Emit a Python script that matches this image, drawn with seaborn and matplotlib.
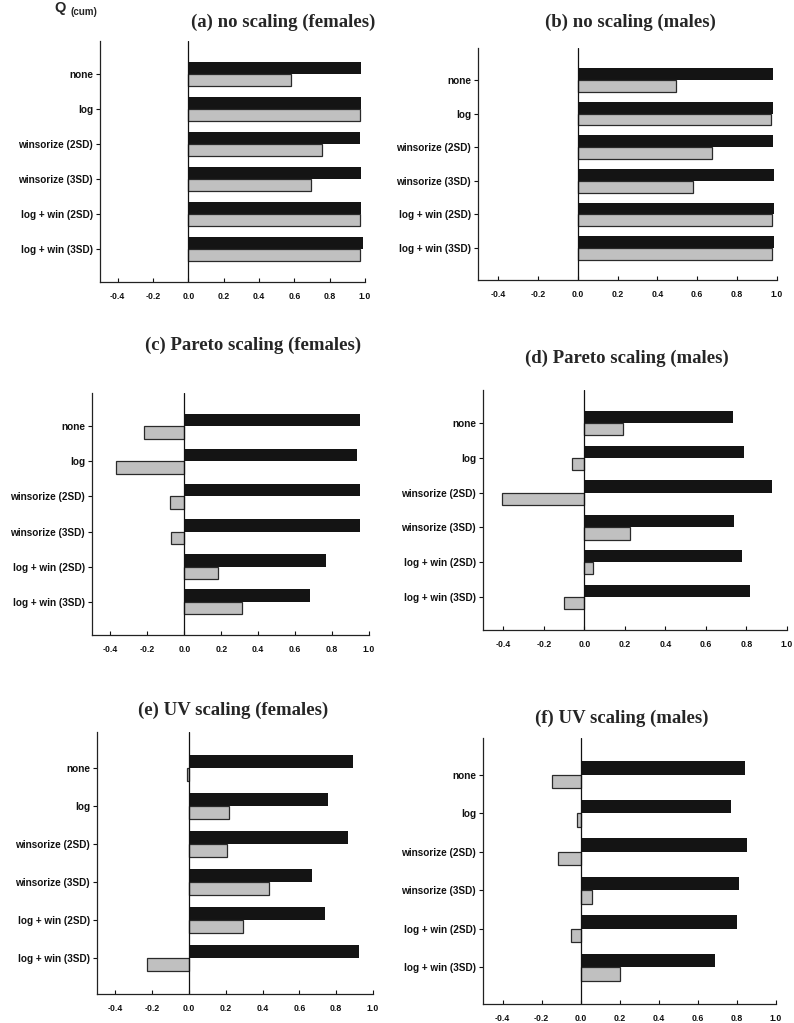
import numpy as np
import pandas as pd
import matplotlib
matplotlib.use("Agg")
import matplotlib.pyplot as plt
import seaborn as sns

sns.set_style("white")
plt.rcParams["axes.unicode_minus"] = False
plt.rcParams["font.family"] = ["Liberation Sans", "DejaVu Sans"]

# Pre-treatment methods (y categories)
methods = ["none", "log", "winsorize (2SD)", "winsorize (3SD)",
           "log + win (2SD)", "log + win (3SD)"]
stats = ["R2(cum)", "Q2(cum)"]

# Cumulative R2 / Q2 per panel
r2_none_f = [0.98, 0.98, 0.97, 0.98, 0.98, 0.99]
q2_none_f = [0.58, 0.97, 0.755, 0.695, 0.97, 0.97]
r2_none_m = [0.98, 0.98, 0.98, 0.985, 0.985, 0.985]
q2_none_m = [0.495, 0.97, 0.675, 0.58, 0.975, 0.975]
r2_par_f = [0.95, 0.935, 0.95, 0.95, 0.765, 0.68]
q2_par_f = [-0.22, -0.37, -0.08, -0.07, 0.18, 0.31]
r2_par_m = [0.735, 0.79, 0.925, 0.74, 0.78, 0.815]
q2_par_m = [0.19, -0.06, -0.405, 0.225, 0.045, -0.10]
r2_uv_f = [0.89, 0.757, 0.865, 0.67, 0.739, 0.922]
q2_uv_f = [-0.012, 0.22, 0.207, 0.436, 0.294, -0.229]
r2_uv_m = [0.84, 0.77, 0.85, 0.81, 0.80, 0.69]
q2_uv_m = [-0.145, -0.02, -0.115, 0.06, -0.05, 0.20]

titles = ["(a) no scaling (females)", "(b) no scaling (males)",
          "(c) Pareto scaling (females)", "(d) Pareto scaling (males)",
          "(e) UV scaling (females)", "(f) UV scaling (males)"]
series = [(r2_none_f, q2_none_f), (r2_none_m, q2_none_m),
          (r2_par_f, q2_par_f), (r2_par_m, q2_par_m),
          (r2_uv_f, q2_uv_f), (r2_uv_m, q2_uv_m)]

W, H = 794, 1023
fig = plt.figure(figsize=(W / 100, H / 100), dpi=100)

# axes boxes in pixels: left, right, top, bottom ; title centre x, y
boxes = [(100, 365, 41, 282, 283, 22),
         (478, 777, 48, 280, 630, 22),
         (92, 369, 393, 635, 253, 345),
         (483, 787, 390, 630, 627, 358),
         (97, 373, 732, 994, 233, 710),
         (483, 776, 738, 1004, 622, 718)]

xticks = [-0.4, -0.2, 0.0, 0.2, 0.4, 0.6, 0.8, 1.0]

for (r2, q2), title, (l, r, t, b, tx, ty) in zip(series, titles, boxes):
    ax = fig.add_axes([l / W, 1 - b / H, (r - l) / W, (b - t) / H])
    df = pd.DataFrame({
        "method": methods * 2,
        "stat": [stats[0]] * len(methods) + [stats[1]] * len(methods),
        "value": list(r2) + list(q2),
    })
    sns.barplot(data=df, y="method", x="value", hue="stat", orient="h",
                order=methods, hue_order=stats,
                palette=["#141414", "#c0c0c0"], width=0.7,
                legend=False, saturation=1, ax=ax)
    for bar in ax.containers[0]:
        bar.set_edgecolor("none")
    for bar in ax.containers[1]:
        bar.set_edgecolor("#2a2a2a")
        bar.set_linewidth(0.9)
    ax.axvline(0, color="#111111", lw=0.9, zorder=3)
    ax.set_xlim(-0.5, 1.0)
    ax.set_ylim(5.95, -0.95)
    ax.set_xticks(xticks)
    ax.set_xticklabels([f"{v:.1f}" for v in xticks],
                       fontsize=6.3, fontweight="bold")
    ax.set_yticks(range(len(methods)))
    ax.set_yticklabels(methods, fontsize=7.2, fontweight="bold")
    ax.set_xlabel("")
    ax.set_ylabel("")
    for s in ("top", "right"):
        ax.spines[s].set_visible(False)
    for s in ("left", "bottom"):
        ax.spines[s].set_color("#222222")
        ax.spines[s].set_linewidth(0.9)
    ax.tick_params(axis="y", direction="out", length=3, width=0.8,
                   pad=2, left=True, colors="#111111")
    ax.tick_params(axis="x", direction="in", length=3, width=0.8,
                   pad=7, bottom=True, colors="#111111")
    fig.text(tx / W, 1 - ty / H, title, ha="center", va="center",
             fontsize=13.5, fontweight="bold", family="Liberation Serif")

# axis quantity label at the upper-left corner
fig.text(60 / W, 1 - 8 / H, "Q", ha="center", va="center",
         fontsize=10.5, fontweight="bold")
fig.text(84 / W, 1 - 12 / H, "(cum)", ha="center", va="center",
         fontsize=7, fontweight="bold")

fig.savefig("out.png", dpi=100)
